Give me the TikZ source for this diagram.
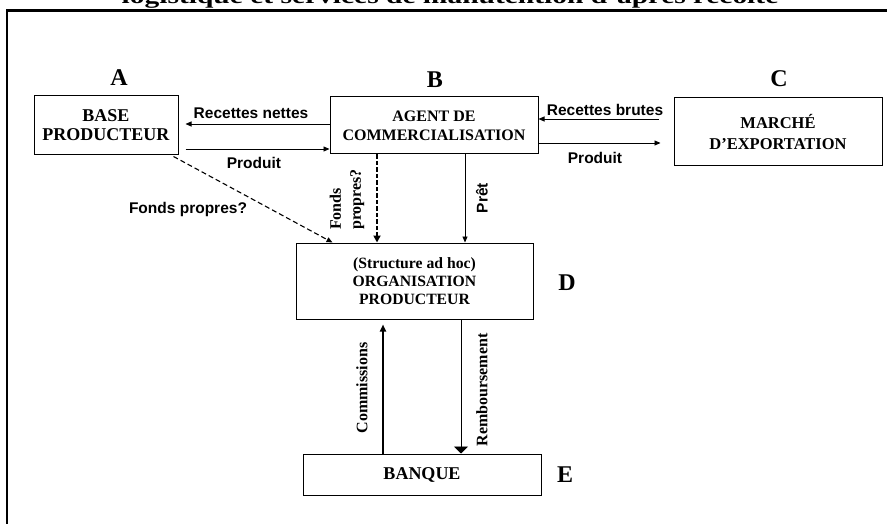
\documentclass[tikz,border=0pt]{standalone}
\usepackage{fontspec}
\setmainfont{Liberation Serif}
\setsansfont{Liberation Sans}
\usetikzlibrary{arrows.meta}

\newcommand{\fsz}[1]{\fontsize{#1}{#1}\selectfont}

\begin{document}
\begin{tikzpicture}[x=1pt, y=-1pt,
  box/.style={draw, line width=1pt, inner sep=0pt, align=center},
  tag/.style={font=\bfseries\fsz{24}, inner sep=0pt},
  flowlabel/.style={font=\sffamily\bfseries\fsz{15.5}, inner sep=0pt},
  vlabel/.style={font=\bfseries\fsz{16}, inner sep=0pt, rotate=90},
  tip/.style={-{Triangle[length=6pt,width=5pt]}},
  flow/.style={line width=0.9pt, tip},
]
\useasboundingbox (0,0) rectangle (887,524);

% heading, only its lower edge lies inside the page
\begin{scope}
  \clip (0,0) rectangle (887,524);
  \node[anchor=base, inner sep=0pt, font=\bfseries\fsz{22}] (title) at (450,4)
    {\scalebox{1.34}[1]{logistique et services de manutention d’après récolte}};
\end{scope}

% outer frame
\draw[line width=2.2pt] (7,540) -- (7,10.5) -- (900,10.5);

% boxes
\node[box, minimum width=144pt, minimum height=59pt, font=\bfseries\fontsize{18}{19}\selectfont]
  (A) at (106,125.5) {BASE\\PRODUCTEUR};
\node[box, minimum width=208pt, minimum height=57pt, font=\bfseries\fontsize{16}{19}\selectfont]
  (B) at (434,125.5) {AGENT DE\\COMMERCIALISATION};
\node[box, minimum width=208pt, minimum height=68pt, font=\bfseries\fontsize{16.5}{21}\selectfont]
  (C) at (778,132) {MARCHÉ\\D’EXPORTATION};
\node[box, minimum width=237pt, minimum height=76pt, font=\bfseries\fontsize{15.7}{18}\selectfont]
  (D) at (414.5,281) {(Structure ad hoc)\\ORGANISATION\\PRODUCTEUR};
\node[box, minimum width=238pt, minimum height=41pt, font=\bfseries\fsz{18}]
  (E) at (422,474.5) {BANQUE};

% letters
\node[tag] (tA) at (119,78) {A};
\node[tag] (tB) at (435,80) {B};
\node[tag] (tC) at (779,79) {C};
\node[tag] (tD) at (567,283) {D};
\node[tag] (tE) at (565,475) {E};

% horizontal flows
\draw[flow] ([yshift=1.5pt]B.west) -- ([xshift=7pt,yshift=1.5pt]A.east);
\draw[flow] ([xshift=7pt,yshift=-23.5pt]A.east) -- ([yshift=-23.5pt]B.west);
\draw[flow] ([xshift=-15pt,yshift=13pt]C.west) -- ([yshift=6.5pt]B.east);
\draw[flow] ([yshift=-17.5pt]B.east) -- ([xshift=-13pt,yshift=-11pt]C.west);

\node[flowlabel] (lRn) at (251,113) {Recettes nettes};
\node[flowlabel] (lPa) at (254,163) {Produit};
\node[flowlabel] (lRb) at (605,110) {Recettes brutes};
\node[flowlabel] (lPb) at (595,158) {Produit};

% equity flows
\draw[line width=1.1pt, dash pattern=on 5pt off 3pt, tip]
  ([xshift=-5pt,yshift=-1pt]A.south east) -- ([xshift=37pt]D.north west);
\node[flowlabel] (lFa) at (188,209) {Fonds propres?};

\draw[line width=2.6pt, dash pattern=on 4.5pt off 2pt, -{Triangle[length=7pt,width=7pt]}]
  ([xshift=-57pt]B.south) -- ([xshift=-57pt]B.south |- D.north);
\node[vlabel, anchor=west, align=left, font=\bfseries\fontsize{16}{20}\selectfont]
  (lFb) at (347,230) {Fonds\\propres?};

% loan
\draw[flow] ([xshift=31pt]B.south) -- ([xshift=31pt]B.south |- D.north);
\node[flowlabel, rotate=90] (lPr) at (482,198) {Prêt};

% bank flows
\draw[line width=2.4pt, -{Triangle[length=7pt,width=6pt]}, shorten >=5pt]
  ([xshift=-39pt]E.north) -- ([xshift=-39pt]E.north |- D.south);
\node[vlabel] (lCo) at (362,388) {Commissions};

\draw[line width=0.9pt, -{Triangle[length=7pt,width=14pt]}]
  ([xshift=46.5pt]D.south) -- ([xshift=46.5pt]D.south |- E.north);
\node[vlabel] (lRe) at (482,390) {Remboursement};
\end{tikzpicture}
\end{document}
